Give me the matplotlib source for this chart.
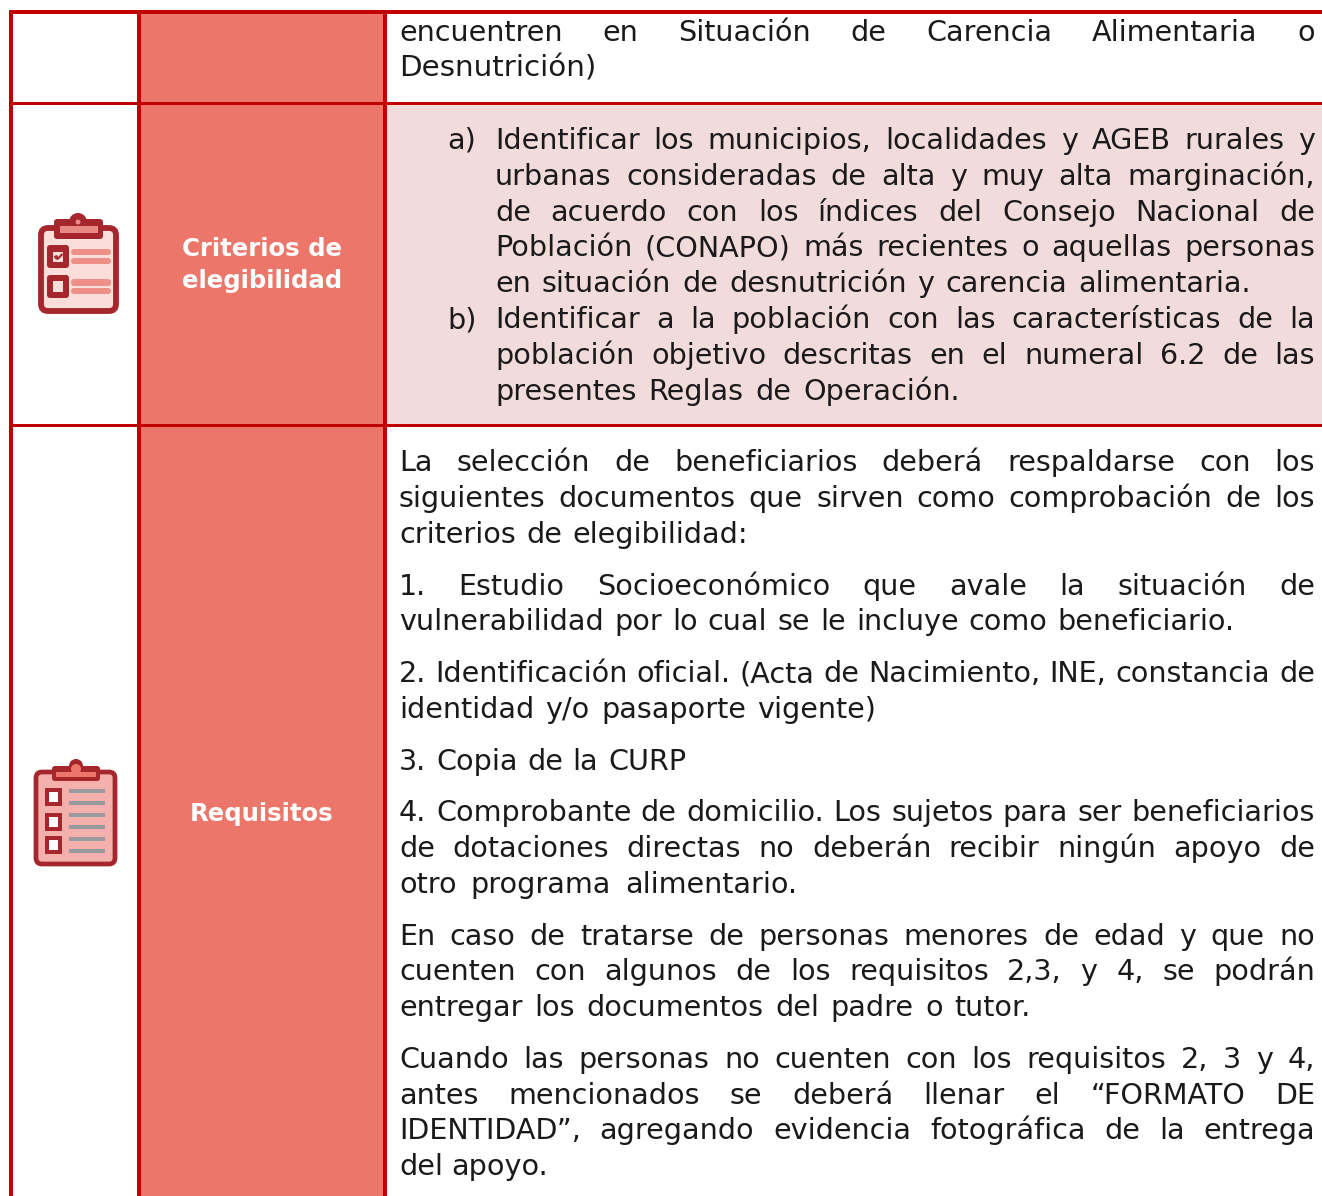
import matplotlib
matplotlib.use("Agg")
import matplotlib.pyplot as plt
from matplotlib.patches import Rectangle, FancyBboxPatch, Circle, Polygon

# text of the table, line by line -----------------------------------------
top_lines = ["encuentren en Situación de Carencia Alimentaria o", "Desnutrición)"]
criterios_label = ["Criterios de", "elegibilidad"]
criterios_marks = ["a)", "b)"]
criterios_lines = [
    "Identificar los municipios, localidades y AGEB rurales y",
    "urbanas consideradas de alta y muy alta marginación,",
    "de acuerdo con los índices del Consejo Nacional de",
    "Población (CONAPO) más recientes o aquellas personas",
    "en situación de desnutrición y carencia alimentaria.",
    "Identificar a la población con las características de la",
    "población objetivo descritas en el numeral 6.2 de las",
    "presentes Reglas de Operación.",
]
requisitos_label = "Requisitos"
requisitos_lines = [
    "La selección de beneficiarios deberá respaldarse con los",
    "siguientes documentos que sirven como comprobación de los",
    "criterios de elegibilidad:",
    "1. Estudio Socioeconómico que avale la situación de",
    "vulnerabilidad por lo cual se le incluye como beneficiario.",
    "2. Identificación oficial. (Acta de Nacimiento, INE, constancia de",
    "identidad y/o pasaporte vigente)",
    "3. Copia de la CURP",
    "4. Comprobante de domicilio. Los sujetos para ser beneficiarios",
    "de dotaciones directas no deberán recibir ningún apoyo de",
    "otro programa alimentario.",
    "En caso de tratarse de personas menores de edad y que no",
    "cuenten con algunos de los requisitos 2,3, y 4, se podrán",
    "entregar los documentos del padre o tutor.",
    "Cuando las personas no cuenten con los requisitos 2, 3 y 4,",
    "antes mencionados se deberá llenar el “FORMATO DE",
    "IDENTIDAD”, agregando evidencia fotográfica de la entrega",
    "del apoyo.",
]

# colours
ROJO = "#C00000"
SALMON = "#EC7669"
ROSA = "#F2DBDB"
TINTA = "#1A1A1A"
GUINDA = "#A6262E"

# where the lines sit (pixels of the page)
top_base = [41, 77]
top_end = [1315, 597]
crit_base = [149, 185, 221, 256, 292, 328, 364, 400]
crit_end = [1315, 1315, 1315, 1315, 1251, 1315, 1315, 960]
req_base = [471, 507, 543, 595, 630, 682, 718, 770, 821, 857, 893, 945, 980, 1016, 1068, 1104, 1139, 1175]
req_end = [1315, 1315, 748, 1315, 1235, 1315, 876, 686, 1315, 1315, 797, 1315, 1315, 1031, 1315, 1315, 1315, 548]

FS = 20.6
FONT = "DejaVu Sans"

fig = plt.figure(figsize=(13.22, 11.96), dpi=100)
ax = fig.add_axes([0, 0, 1, 1])
ax.set_xlim(0, 1322)
ax.set_ylim(1196, 0)
ax.axis("off")
renderer = fig.canvas.get_renderer()


def box(x0, y0, x1, y1, color, z=1):
    ax.add_patch(Rectangle((x0, y0), x1 - x0, y1 - y0, facecolor=color, edgecolor="none", zorder=z))


def ancho(s, size, weight="normal"):
    t = ax.text(0, 0, s, fontsize=size, fontweight=weight, family=FONT)
    w = t.get_window_extent(renderer).width
    t.remove()
    return w


def linea(s, x0, x1, y):
    # places word by word so the line runs from x0 to x1 like the justified original
    words = s.split(" ")
    size = FS
    total = sum(ancho(w, size) for w in words)
    espacio = 0.65 * (ancho("a a", size) - ancho("aa", size))
    nat = total + espacio * (len(words) - 1)
    target = x1 - x0
    # a line that would not fit gets a smaller size, single words are fitted exactly
    if nat > target or len(words) == 1:
        size = FS * target / nat
        total = sum(ancho(w, size) for w in words)
    if len(words) == 1:
        ax.text(x0, y, s, fontsize=size, family=FONT, color=TINTA, va="baseline", zorder=5)
        return
    gap = (target - total) / (len(words) - 1)
    x = x0
    for w in words:
        ax.text(x, y, w, fontsize=size, family=FONT, color=TINTA, va="baseline", zorder=5)
        x += ancho(w, size) + gap


def icono_criterios():
    ax.add_patch(FancyBboxPatch((41, 228), 75, 83, boxstyle="round,pad=0,rounding_size=7", facecolor="#FBDDD9", edgecolor=GUINDA, linewidth=4.2, zorder=2))
    ax.add_patch(Circle((78, 222), 9, facecolor=GUINDA, edgecolor="none", zorder=3))
    ax.add_patch(FancyBboxPatch((54, 219), 49, 20, boxstyle="round,pad=0,rounding_size=3", facecolor=GUINDA, edgecolor="none", zorder=3))
    box(60, 226, 98, 233, "#E98A84", 4)
    ax.add_patch(Circle((78, 222), 2.5, facecolor="#E98A84", edgecolor="none", zorder=4))
    for y0, y1 in [(245, 268), (275, 298)]:
        ax.add_patch(FancyBboxPatch((47, y0), 22, y1 - y0, boxstyle="round,pad=0,rounding_size=3", facecolor=GUINDA, edgecolor="none", zorder=3))
    box(53, 252, 63, 262, "#FBDDD9", 4)
    box(53, 281, 63, 292, "#FBDDD9", 4)
    ax.add_patch(Polygon([(54, 256), (57, 255), (58, 257), (62, 253), (63, 255), (58, 260), (55, 259)], facecolor=GUINDA, edgecolor="none", zorder=5))
    for y0, y1 in [(249, 255), (258, 264), (279, 286), (288, 294)]:
        ax.add_patch(FancyBboxPatch((71, y0), 40, y1 - y0, boxstyle="round,pad=0,rounding_size=3", facecolor="#EE8F88", edgecolor="none", zorder=3))


def icono_requisitos():
    ax.add_patch(FancyBboxPatch((36, 772), 79, 92, boxstyle="round,pad=0,rounding_size=6", facecolor="#F4B0AC", edgecolor=GUINDA, linewidth=3.4, zorder=2))
    ax.add_patch(Circle((76, 766), 7, facecolor=GUINDA, edgecolor="none", zorder=3))
    ax.add_patch(FancyBboxPatch((52, 766), 48, 15, boxstyle="round,pad=0,rounding_size=3", facecolor=GUINDA, edgecolor="none", zorder=3))
    box(56, 772, 96, 777, SALMON, 4)
    ax.add_patch(Circle((76, 769), 5, facecolor=SALMON, edgecolor="none", zorder=4))
    for y0 in [788, 813, 836]:
        box(45, y0, 62, y0 + 18, GUINDA, 3)
        box(49, y0 + 4, 58, y0 + 14, "white", 4)
    for y in [791, 803, 815, 827, 839, 851]:
        box(69, y - 2, 105, y + 2, "#999A9E", 3)


# fills
box(141, 14, 383, 1196, SALMON)
box(387, 105, 1322, 424, ROSA)

# rules of the table
for x0, x1 in [(9, 13), (137, 141), (383, 387)]:
    box(x0, 10, x1, 1196, ROJO, 2)
for y0, y1 in [(10, 14), (102, 105), (424, 427)]:
    box(9, y0, 1322, y1, ROJO, 2)

# first column
icono_criterios()
icono_requisitos()

# second column
ax.text(262, 249, criterios_label[0], color="white", fontsize=17.6, fontweight="bold", family=FONT, ha="center", va="center", zorder=5)
ax.text(262, 281, criterios_label[1], color="white", fontsize=17.6, fontweight="bold", family=FONT, ha="center", va="center", zorder=5)
ax.text(262, 814, requisitos_label, color="white", fontsize=17.6, fontweight="bold", family=FONT, ha="center", va="center", zorder=5)

# third column
for s, y, x1 in zip(top_lines, top_base, top_end):
    linea(s, 399, x1, y)
for s, y, x1 in zip(criterios_lines, crit_base, crit_end):
    linea(s, 495, x1, y)
ax.text(447, crit_base[0], criterios_marks[0], fontsize=FS, family=FONT, color=TINTA, va="baseline", zorder=5)
ax.text(447, crit_base[5], criterios_marks[1], fontsize=FS, family=FONT, color=TINTA, va="baseline", zorder=5)
for s, y, x1 in zip(requisitos_lines, req_base, req_end):
    linea(s, 399, x1, y)

fig.savefig("out.png", dpi=100)
